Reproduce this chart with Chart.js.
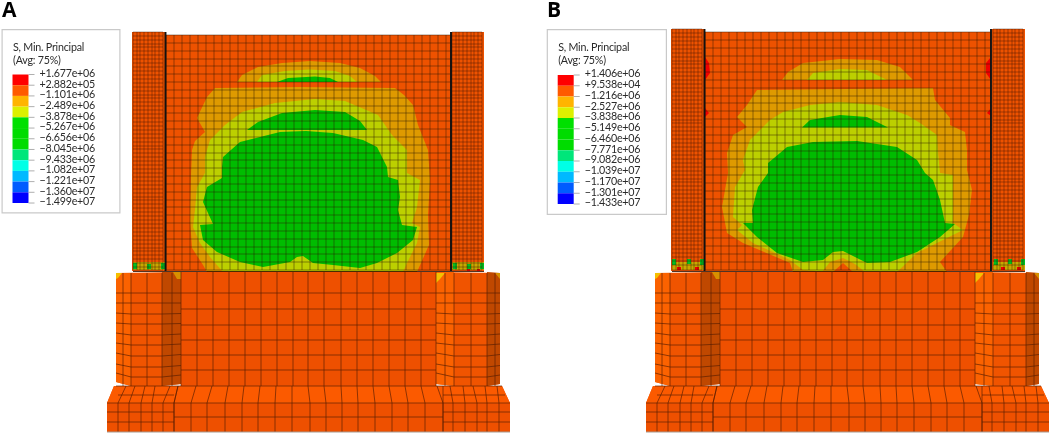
<!DOCTYPE html>
<html>
<head>
<meta charset="utf-8">
<script src="https://cdn.jsdelivr.net/npm/chart.js@4"></script>
<style>
  html, body { margin: 0; background: #fff; }
  canvas { position: absolute; top: 0; }
  #panelA { left: 0; }
  #panelB { left: 539px; }
</style>
</head>
<body>
<canvas id="panelA" width="539" height="433"></canvas>
<canvas id="panelB" width="513" height="433"></canvas>
<script>
// legend
const legendTitle = ['S, Min. Principal', '(Avg: 75%)'];
const labelsA = ['+1.677e+06','+2.882e+05','−1.101e+06','−2.489e+06','−3.878e+06','−5.267e+06','−6.656e+06','−8.045e+06','−9.433e+06','−1.082e+07','−1.221e+07','−1.360e+07','−1.499e+07'];
const labelsB = ['+1.406e+06','+9.538e+04','−1.216e+06','−2.527e+06','−3.838e+06','−5.149e+06','−6.460e+06','−7.771e+06','−9.082e+06','−1.039e+07','−1.170e+07','−1.301e+07','−1.433e+07'];
const bandColors = ['#ff0000','#ff5a00','#ffb400','#dcf000','#00e000','#00dc00','#00dc00','#00e67a','#00ffe6','#00b9ff','#005cff','#0000ff'];

// contour colours
const orange = '#ee5200', amber = '#de9a00', lime = '#bcd000', green = '#00bc00', red = '#f00000';

// wall, column and base meshes (model coordinates of each panel)
const wallXA = [166,174,182,190,198,206,214,222,230,238,246,254,262,270,278,286,294,302,310,318,326,334,342,350,358,366,374,382,390,398,406,414,422,430,438,446,451];
const wallXB = [166,174,182,190,198,206,214,222,230,238,246,254,262,270,278,286,294,302,310,318,326,334,342,350,358,366,374,382,390,398,406,414,422,430,438,446,452];
const wallYA = [35,43,51,59,66,74,82,90,98,106,113,121,129,137,145,153,160,168,176,184,192,200,207,215,223,231,239,247,254,262,270];
const wallYB = [32,40,48,56,64,72,80,88,96,103,111,119,127,135,143,151,159,167,175,183,191,199,206,214,222,230,238,246,254,262,270];
const columnRowsA = [32,36,40,44,47,51,55,59,63,67,71,75,79,83,87,91,95,98,102,106,110,114,118,122,126,130,134,138,142,146,149,153,157,161,165,169,173,177,181,185,189,193,197,200,204,208,212,216,220,224,228,232,236,240,244,248,251,255,259,263,267,270];
const columnRowsB = [29,33,37,41,45,49,53,57,61,64,68,72,76,80,84,88,92,96,100,104,108,112,116,120,123,127,131,135,139,143,147,151,155,159,163,167,171,175,179,182,186,190,194,198,202,206,210,214,218,222,226,230,234,238,241,245,249,253,257,261,265,270];
const columnLeftX = [133,137,140,144,148,152,155,159,163];
const columnRightXA = [452,456,459,463,467,471,474,478,482];
const columnRightXB = [454,458,461,465,469,473,476,480,484];

const baseX = [197,213,229,245,261,277,293,308,324,341,357,373,389,405,421];
const baseY = [293,309,325,340,355,370];
const pierRows = [293,303,314,324,335,345,356,367,377];
const pierDroop = [0,0,1,1,2,2,3,3,4];
const pierLeftX = [123,131,147,162,172];
const pierRightX = [445,454,471,487,495];
const footTopX = [178,196,212,228,244,260,276,292,308,324,341,357,373,389,405,421,437];
const footBotX = [174,191,207,225,242,258,275,292,310,326,342,358,375,392,408,425,443];
const footLeftTopX = [126,135,145,155,170,178];
const footLeftBotX = [118,129,141,152,163,174];
const footRightTopX = [443,450,463,473,485,497];
const footRightBotX = [443,453,465,477,487,499];

// base solids
const baseFace = [[181,272],[436,272],[436,386],[181,386]];
const pierLeftFace = [[116,273],[181,272],[181,384],[162,386],[131,386],[116,382]];
const pierLeftLight = [[116,273],[131,273],[131,386],[116,382]];
const pierLeftDark = [[162,272],[181,272],[181,384],[162,386]];
const pierRightFace = [[436,272],[500,273],[500,384],[487,386],[454,386],[436,384]];
const pierRightLight = [[436,272],[454,272],[454,386],[436,384]];
const pierRightDark = [[487,272],[500,273],[500,384],[487,386]];
const footing = [[114,386],[502,386],[510,403],[510,432],[107,432],[107,403]];
const footingTop = [[114,386],[502,386],[510,403],[107,403]];
const cornerYellow = [[[116,273],[122,273],[118,278],[116,279]], [[436,273],[445,273],[440,279],[436,283]]];
const cornerAmber = [[[173,272],[181,272],[181,279],[177,279]], [[495,273],[500,273],[500,279]]];

// contour A
const archAmberA = [[237,82],[242,75],[258,67],[282,63],[310,61],[340,63],[360,68],[375,76],[381,82]];
const archLimeA = [[257,82],[262,75],[285,71],[310,69.5],[335,71],[350,76],[357,82]];
const archGreenA = [[277,82],[288,78],[315,76.5],[330,78],[338,82]];
const mainAmberA = [[215,88],[300,87],[395,88],[404,95],[413,105],[418,125],[422,135],[428,150],[430,180],[428,215],[429,245],[417,272],[207,272],[203,265],[192,248],[190,220],[191,175],[192,150],[195,141],[205,132],[197,118],[207,97]];
const mainLimeA = [[225,125],[242,112],[275,103],[315,99],[345,101],[378,115],[392,135],[407,150],[407,173],[420,180],[417,207],[412,223],[420,227],[417,243],[407,263],[403,272],[223,272],[210,257],[200,243],[193,227],[195,210],[197,187],[205,173],[205,157],[210,140]];
const lobeGreenA = [[247,130],[258,122],[282,113],[315,110],[345,112],[360,121],[367,130]];
const mainGreenA = [[222,167],[223,157],[240,142],[280,132],[306,131],[333,133],[363,140],[377,147],[387,167],[388,177],[398,180],[400,197],[398,210],[402,225],[417,227],[413,240],[397,253],[377,263],[360,268],[333,265],[313,263],[303,256],[297,257],[290,262],[263,267],[240,262],[217,252],[203,240],[200,225],[213,224],[208,213],[203,202],[207,187],[222,178]];

// contour B
const archAmberB = [[243,80],[249,72],[264,63],[301,59],[338,60],[361,67],[374,80]];
const archLimeB = [[268,80],[274,73],[301,69],[328,70],[348,80]];
const mainAmberB = [[218,90],[394,88],[396,100],[411,118],[411,125],[426,132],[428,150],[428,170],[433,190],[430,215],[424,237],[401,262],[408,272],[392,272],[300,272],[254,272],[251,263],[204,243],[188,233],[183,207],[189,173],[188,153],[194,135],[208,127],[198,117],[208,105]];
const mainLimeB = [[231,120],[244,112],[271,105],[301,102],[338,105],[368,115],[381,123],[398,135],[399,152],[401,173],[414,175],[414,223],[424,230],[378,253],[358,272],[321,272],[294,272],[264,270],[251,260],[214,243],[198,230],[203,225],[194,217],[196,187],[206,170],[204,160],[211,140]];
const lobeGreenB = [[263,127.5],[271,120],[301,115],[328,117],[349,127.5]];
const mainGreenB = [[241,153],[248,147],[274,142],[318,141],[358,147],[378,160],[386,173],[394,180],[401,200],[406,223],[416,224],[401,237],[378,252],[351,262],[328,263],[318,258],[304,251],[294,252],[284,260],[264,262],[238,253],[218,237],[204,223],[214,223],[213,210],[219,187],[229,173],[229,163]];
const bumpAmberB = [[283,272],[291,262],[304,258],[316,264],[326,272]];
const bumpOrangeB = [[294,272],[304,263],[314,272]];
const wallRedB = [[[166,57],[170,63],[171,73],[166,80]], [[166,108],[170,113],[166,117]], [[452,57],[447,63],[447,73],[452,80]], [[452,108],[448,113],[452,116]]];

// coloured spots at the foot of the columns [x0, y0, x1, y1]
const footBandA = [[133,262,165,270],[452,262,484,270]];
const footBandB = [[133,262,165,270],[454,262,486,270]];
const footGreenA = [[133,263,137,269],[147,264,151,269],[161,263,165,269],[453,263,457,269],[467,264,471,269],[480,263,484,269]];
const footGreenB = [[133,259,137,265],[148,259,152,264],[161,259,165,265],[455,259,459,265],[469,259,473,264],[482,259,486,265]];
const footRedA = [[467,269,470,271],[477,269,480,271]];
const footRedB = [[138,267,142,270],[156,267,160,270],[462,267,466,270],[478,267,482,270]];

const rect = r => [[r[0],r[1]],[r[2],r[1]],[r[2],r[3]],[r[0],r[3]]];

// turn a list of polylines into one dataset, NaN breaks the line between them
function meshData(lines) {
    const pts = [];
    lines.forEach(l => {
        l.forEach(p => pts.push({ x: p[0], y: p[1] }));
        pts.push({ x: NaN, y: NaN });
    });
    return pts;
}

function grid(xs, ys) {
    const x0 = xs[0], x1 = xs[xs.length - 1], y0 = ys[0], y1 = ys[ys.length - 1];
    return [...xs.map(x => [[x, y0], [x, y1]]), ...ys.map(y => [[x0, y], [x1, y]])];
}

const textPlugin = {
    id: 'panelText',
    afterDraw(chart, args, opts) {
        const { ctx, scales: { x, y } } = chart;
        ctx.save();
        ctx.fillStyle = '#000';
        ctx.textBaseline = 'alphabetic';
        ctx.font = 'bold 21px "Open Sans"';
        ctx.fillText(opts.letter, x.getPixelForValue(opts.letterX), y.getPixelForValue(17));
        ctx.fillStyle = '#2a2a2a';
        ctx.font = '10.7px Lato';
        ctx.letterSpacing = '-0.22px';
        legendTitle.forEach((t, i) => ctx.fillText(t, x.getPixelForValue(opts.lx + 11.5), y.getPixelForValue(51 + i * 13)));
        ctx.textBaseline = 'middle';
        opts.labels.forEach((t, i) => {
            ctx.fillText(t, x.getPixelForValue(opts.lx + 38), y.getPixelForValue(opts.barTop - 1 + i * opts.band));
        });
        ctx.restore();
    }
};

function drawPanel(id, cfg) {
    const canvas = document.getElementById(id);
    const datasets = [];
    // the long dash only keeps Chart.js off its x-sorted fast path, these shapes double back
    const fillPoly = (pts, color) => datasets.push({
        data: [...pts, pts[0]].map(p => ({ x: p[0], y: p[1] })),
        showLine: true, fill: 'shape', backgroundColor: color, borderWidth: 0, borderDash: [4000, 1], pointRadius: 0
    });
    const lines = (list, color, width) => datasets.push({
        data: meshData(list), showLine: true, fill: false, borderColor: color, borderWidth: width, borderDash: [4000, 1], pointRadius: 0, spanGaps: false
    });

    // legend
    const lx = cfg.lx;
    fillPoly(rect([lx, 29, lx + cfg.lw, cfg.lb]), '#c9c9c9');
    fillPoly(rect([lx + 1.2, 30.2, lx + cfg.lw - 1.2, cfg.lb - 1.2]), '#ffffff');
    bandColors.forEach((c, i) => fillPoly(rect([lx + 11, cfg.barTop + i * cfg.band, lx + 27, cfg.barTop + (i + 1) * cfg.band]), c));
    lines(cfg.labels.map((t, i) => [[lx + 27, cfg.barTop + i * cfg.band], [lx + 33, cfg.barTop + i * cfg.band]]), '#9a9a9a', 0.8);

    // base block
    fillPoly(baseFace, '#ee5000');
    fillPoly(pierLeftFace, '#f05400');
    fillPoly(pierLeftLight, '#fb6200');
    fillPoly(pierLeftDark, '#c04800');
    fillPoly(pierRightFace, '#f05400');
    fillPoly(pierRightLight, '#fb6200');
    fillPoly(pierRightDark, '#c04800');
    fillPoly(footing, '#ee5000');
    fillPoly(footingTop, '#fb5a00');
    cornerYellow.forEach(p => fillPoly(p, '#f5c000'));
    cornerAmber.forEach(p => fillPoly(p, '#d89000'));
    const baseLines = [
        ...baseX.map(x => [[x, 272], [x, 386]]),
        ...baseY.map(y => [[181, y], [436, y]]),
        ...pierRows.map((y, i) => [[116, y - pierDroop[i]], [131, y], [162, y], [181, y - pierDroop[i] / 2]]),
        ...pierRows.map((y, i) => [[436, y - pierDroop[i]], [454, y], [487, y], [500, y - pierDroop[i] / 2]]),
        ...pierLeftX.map(x => [[x, 273], [x, 386]]),
        ...pierRightX.map(x => [[x, 273], [x, 386]]),
        ...footTopX.map((x, i) => [[x, 386], [footBotX[i], 403], [footBotX[i], 432]]),
        ...footLeftTopX.map((x, i) => [[x, 386], [footLeftBotX[i], 403], [footLeftBotX[i], 432]]),
        ...footRightTopX.map((x, i) => [[x, 386], [footRightBotX[i], 403], [footRightBotX[i], 432]]),
        [[107, 403], [510, 403]], [[107, 412], [174, 412]], [[107, 422], [174, 422]],
        [[443, 412], [510, 412]], [[443, 422], [510, 422]], [[174, 417], [443, 417]],
        [[118, 395], [174, 395]], [[443, 395], [505, 395]],
        [[181, 272], [181, 386]], [[436, 272], [436, 386]], [[116, 386], [502, 386]]
    ];
    lines(baseLines, 'rgba(90,30,0,0.75)', 0.9);
    lines([[[107, 432], [510, 432]]], '#a89a90', 1);

    // wall and columns
    const wallEnd = cfg.wallX[cfg.wallX.length - 1];
    fillPoly(rect([cfg.wallX[0], cfg.wallY[0], wallEnd, 271]), orange);
    fillPoly(rect([columnLeftX[0] - 1, cfg.colRows[0], 165, 271]), orange);
    fillPoly(rect([cfg.colRight[0] - 1, cfg.colRows[0], cfg.colRight[8] + 2, 271]), orange);
    cfg.contours.forEach(c => fillPoly(c[0], c[1]));
    cfg.footBand.forEach(r => fillPoly(rect(r), '#c8a800'));
    cfg.footGreen.forEach(r => fillPoly(rect(r), '#00c020'));
    cfg.footRed.forEach(r => fillPoly(rect(r), red));
    lines(grid(cfg.wallX, cfg.wallY), 'rgba(40,25,0,0.5)', 0.9);
    lines(grid(columnLeftX, cfg.colRows), 'rgba(50,15,0,0.5)', 0.8);
    lines(grid(cfg.colRight, cfg.colRows), 'rgba(50,15,0,0.5)', 0.8);
    lines([[[165.5, cfg.colRows[0]], [165.5, 271]], [[wallEnd, cfg.colRows[0]], [wallEnd, 271]]], '#111', 1.9);
    lines([[[133, 271.5], [cfg.colRight[8] + 2, 271.5]]], 'rgba(50,15,0,0.85)', 1);

    datasets.forEach((d, i) => { d.order = datasets.length - i; });

    new Chart(canvas, {
        type: 'scatter',
        data: { datasets },
        plugins: [textPlugin],
        options: {
            responsive: false,
            animation: false,
            events: [],
            layout: { padding: 0 },
            scales: {
                x: { type: 'linear', display: false, min: 0, max: canvas.width },
                y: { type: 'linear', display: false, min: 0, max: 433, reverse: true }
            },
            plugins: {
                legend: { display: false },
                tooltip: { enabled: false },
                panelText: { letter: cfg.letter, letterX: cfg.letterX, labels: cfg.labels, lx: lx, barTop: cfg.barTop, band: cfg.band }
            }
        }
    });
}

drawPanel('panelA', {
    letter: 'A', letterX: 2, labels: labelsA, lx: 1.5, lw: 119, lb: 213.5, barTop: 74.5, band: 10.71,
    wallX: wallXA, wallY: wallYA, colRows: columnRowsA, colRight: columnRightXA,
    footBand: footBandA, footGreen: footGreenA, footRed: footRedA,
    contours: [[archAmberA, amber], [archLimeA, lime], [archGreenA, green], [mainAmberA, amber], [mainLimeA, lime], [lobeGreenA, green], [mainGreenA, green]]
});

drawPanel('panelB', {
    letter: 'B', letterX: 8, labels: labelsB, lx: 7.7, lw: 120.3, lb: 215, barTop: 75, band: 10.75,
    wallX: wallXB, wallY: wallYB, colRows: columnRowsB, colRight: columnRightXB,
    footBand: footBandB, footGreen: footGreenB, footRed: footRedB,
    contours: [[archAmberB, amber], [archLimeB, lime], [mainAmberB, amber], [mainLimeB, lime], [bumpAmberB, amber], [bumpOrangeB, orange], [lobeGreenB, green], [mainGreenB, green],
        ...wallRedB.map(p => [p, red])]
});
</script>
</body>
</html>
